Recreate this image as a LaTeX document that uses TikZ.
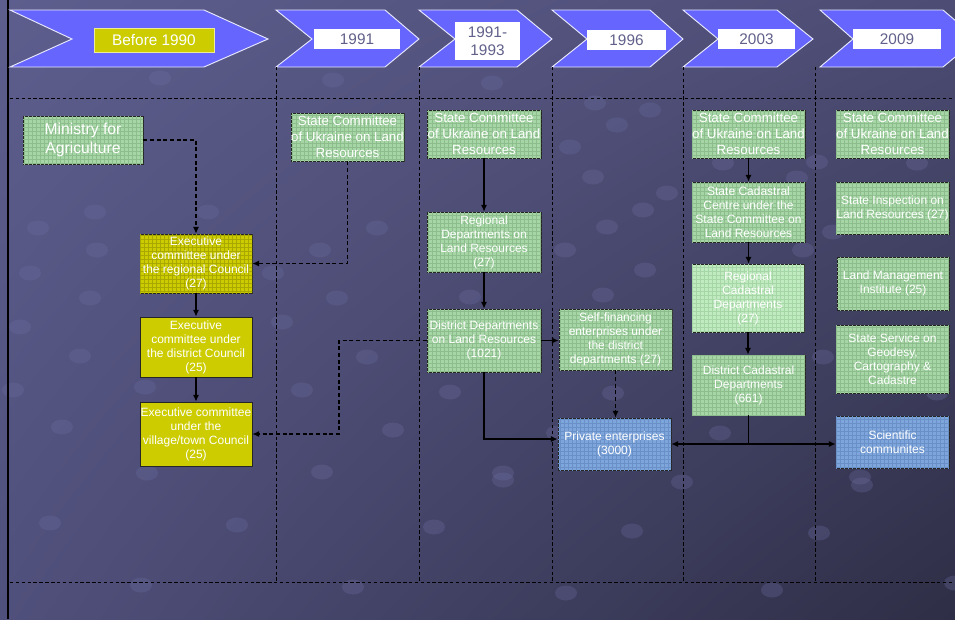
\documentclass[tikz,border=0pt]{standalone}
\usepackage{fontspec}
\setmainfont{Liberation Sans}
\usetikzlibrary{arrows.meta,patterns,shadings}

\definecolor{bgTL}{HTML}{5E5E8E}
\definecolor{bgTR}{HTML}{4C4C74}
\definecolor{bgBL}{HTML}{50507C}
\definecolor{bgBR}{HTML}{2E2E46}
\definecolor{bubcol}{HTML}{6E6EA2}
\definecolor{chevblue}{HTML}{6666FF}
\definecolor{yeartext}{HTML}{60608A}
\definecolor{yel}{HTML}{CCCC00}
\definecolor{yelgrid}{HTML}{A8A800}
\definecolor{boxgreen}{HTML}{A6D6A6}
\definecolor{gridgreen}{HTML}{8DBD8D}
\definecolor{lightgreen}{HTML}{C0EAC0}
\definecolor{boxblue}{HTML}{7EA6DC}
\definecolor{gridblue}{HTML}{6A90C8}

\tikzset{
    chev/.style={fill=chevblue, draw=white!85!chevblue, line width=0.7pt},
    yearbox/.style={fill=white, text=yeartext, inner sep=0pt, align=center,
        font=\fontsize{11.5}{13.5}\selectfont},
    sep/.style={draw=black, line width=0.75pt, dash pattern=on 2.6pt off 1.8pt},
    box/.style={draw=black!85, line width=0.6pt, text=white, align=center,
        inner sep=0pt, minimum width=84.75pt, font=\fontsize{9}{10.5}\selectfont},
    greenbox/.style={box, fill=boxgreen, postaction={pattern=grid, pattern color=gridgreen}},
    paleboxgreen/.style={box, fill=lightgreen, postaction={pattern=grid, pattern color=boxgreen}},
    bluebox/.style={box, fill=boxblue, postaction={pattern=grid, pattern color=gridblue}},
    yelbox/.style={box, fill=yel},
    yelgridbox/.style={box, fill=yel, postaction={pattern=grid, pattern color=yelgrid}},
    link/.style={draw=black, line width=0.85pt, -{Latex[length=5pt,width=4.5pt]}},
    dlink/.style={link, dash pattern=on 3pt off 2pt}
}

\begin{document}
\begin{tikzpicture}[x=0.75pt, y=-0.75pt]
    \useasboundingbox (0,0) rectangle (955,619);
    \clip (0,0) rectangle (955,619);
    \shade[upper left=bgTL, upper right=bgTR, lower left=bgBL, lower right=bgBR]
        (0,0) rectangle (955,619);

    % background bubbles
    \foreach \bx/\by in {160/78, 333/80, 492/83, 595/103, 650/110, 617/125, 570/147,
        593/177, 723/163, 797/178, 817/162, 917/163, 667/193, 95/212, 208/212, 38/228,
        97/250, 30/273, 90/298, 337/298, 20/327, 80/356, 145/387, 302/390, 367/357,
        393/430, 62/427, 147/473, 322/472, 450/392, 470/297, 273/273, 320/250, 377/228,
        282/322, 13/390, 607/227, 643/210, 565/250, 645/270, 603/295, 803/250, 833/232,
        613/393, 720/433, 937/393, 823/357, 860/477, 503/473, 557/433, 50/523, 237/525,
        141/585, 434/527, 353/587, 503/480, 632/531, 566/593, 682/482, 819/533, 772/590,
        862/485, 955/583} {
        \fill[bubcol, opacity=0.3] (\bx,\by) ellipse [x radius=11, y radius=7.5];
    }

    \draw[black, line width=1.6pt] (8,0) -- (8,619);

    % time line
    \foreach \xa/\xn/\xb/\xt in {10/72/204/268, 276/312/385/419, 419/455/517/552,
        552/587/650/683, 683/718/777/813, 820/853/943/977} {
        \draw[chev] (\xa,10) -- (\xb,10) -- (\xt,39) -- (\xb,67) -- (\xa,67) -- (\xn,39) -- cycle;
    }
    \node[yearbox, fill=yel, text=white, draw=white!60!yel, line width=0.6pt,
        minimum width=90pt, minimum height=18pt] (y1990) at (154,40) {Before 1990};
    \node[yearbox, minimum width=64.5pt, minimum height=15pt] (y1991) at (357,39) {1991};
    \node[yearbox, minimum width=48.75pt, minimum height=28.5pt] (y1993) at (487.5,41) {1991-\\1993};
    \node[yearbox, minimum width=59.25pt, minimum height=15pt] (y1996) at (626.5,40) {1996};
    \node[yearbox, minimum width=57.75pt, minimum height=15pt] (y2003) at (756.5,39) {2003};
    \node[yearbox, minimum width=66pt, minimum height=15pt] (y2009) at (897,39) {2009};

    \foreach \sx in {276,419,552,683,815} {
        \draw[sep] (\sx,67) -- (\sx,582);
    }
    \draw[sep] (10,98) -- (955,98);
    \draw[sep] (10,582) -- (955,582);

    % before 1990
    \node[greenbox, minimum width=90pt, minimum height=36pt,
        font=\fontsize{11.8}{14}\selectfont] (ministry) at (83,140) {Ministry for\\Agriculture};
    \node[yelgridbox, minimum width=84pt, minimum height=44.25pt] (exreg) at (196,263.5)
        {Executive\\committee under\\the regional Council\\(27)};
    \node[yelbox, minimum width=84pt, minimum height=45pt] (exdist) at (196,347)
        {Executive\\committee under\\the district Council\\(25)};
    \node[yelbox, minimum width=84pt, minimum height=48pt] (exvil) at (196,434)
        {Executive committee\\under the\\village/town Council\\(25)};

    % 1991 - 1996
    \node[greenbox, minimum height=36pt, font=\fontsize{10}{12}\selectfont] (sc91) at (347.5,137)
        {State Committee\\of Ukraine on Land\\Resources};
    \node[greenbox, minimum width=85.5pt, minimum height=36pt, font=\fontsize{10}{12}\selectfont]
        (sc93) at (484,134) {State Committee\\of Ukraine on Land\\Resources};
    \node[greenbox, minimum width=85.5pt, minimum height=45pt] (regdep) at (484,242)
        {Regional\\Departments on\\Land Resources\\(27)};
    \node[greenbox, minimum width=85.5pt, minimum height=47.25pt] (distdep) at (484,340.5)
        {District Departments\\on Land Resources\\(1021)};
    \node[greenbox, minimum height=45.75pt] (selffin) at (615.5,339.5)
        {Self-financing\\enterprises under\\the district\\departments (27)};
    \node[bluebox, minimum height=39pt] (private) at (614.5,444) {Private enterprises\\(3000)};

    % 2003
    \node[greenbox, minimum height=36pt, font=\fontsize{10}{12}\selectfont] (sc03) at (748.5,134)
        {State Committee\\of Ukraine on Land\\Resources};
    \node[greenbox, minimum height=45pt] (centre) at (748.5,212)
        {State Cadastral\\Centre  under the\\State Committee on\\Land Resources};
    \node[paleboxgreen, minimum width=84pt, minimum height=51pt] (regcad) at (748,298)
        {Regional\\Cadastral\\Departments\\(27)};
    \node[greenbox, minimum height=45pt] (distcad) at (748.5,385)
        {District Cadastral\\Departments\\(661)};

    % 2009
    \node[greenbox, minimum height=36pt, font=\fontsize{10}{12}\selectfont] (sc09) at (892.5,134)
        {State Committee\\of Ukraine on Land\\Resources};
    \node[greenbox, minimum height=39pt] (inspect) at (892.5,208)
        {State Inspection on\\Land Resources (27)};
    \node[greenbox, minimum width=84pt, minimum height=39.75pt] (lmi) at (893,283.5)
        {Land Management\\Institute (25)};
    \node[greenbox, minimum height=51pt] (service) at (892.5,359)
        {State Service on\\Geodesy,\\Cartography \&\\Cadastre};
    \node[bluebox, minimum height=39pt] (science) at (892.5,442) {Scientific\\communites};

    % links
    \draw[dlink] (ministry.east) -| (exreg.north);
    \draw[dlink] (sc91.south) |- (exreg.east);
    \draw[link] (exreg.south) -- (exdist.north);
    \draw[link] (exdist.south) -- (exvil.north);
    \coordinate (dj) at (339,400);
    \draw[dlink] (distdep.west) -| (dj) |- (exvil.east);

    \draw[link] (sc93.south) -- (regdep.north);
    \draw[link] (regdep.south) -- (distdep.north);
    \draw[link] (distdep.east) -- (selffin.west |- distdep.east);
    \draw[link] (distdep.south) |- ([yshift=3.75pt]private.west);
    \draw[dlink] (selffin.south) -- (selffin.south |- private.north);

    \draw[link] (sc03.south) -- (sc03.south |- centre.north);
    \draw[link] (centre.south) -- (centre.south |- regcad.north);
    \draw[link] (regcad.south) -- (regcad.south |- distcad.north);
    \coordinate (cj) at (distcad.south |- private.east);
    \draw[link] (distcad.south) |- (private.east);
    \draw[link] (cj) -- (science.west |- cj);
\end{tikzpicture}
\end{document}
